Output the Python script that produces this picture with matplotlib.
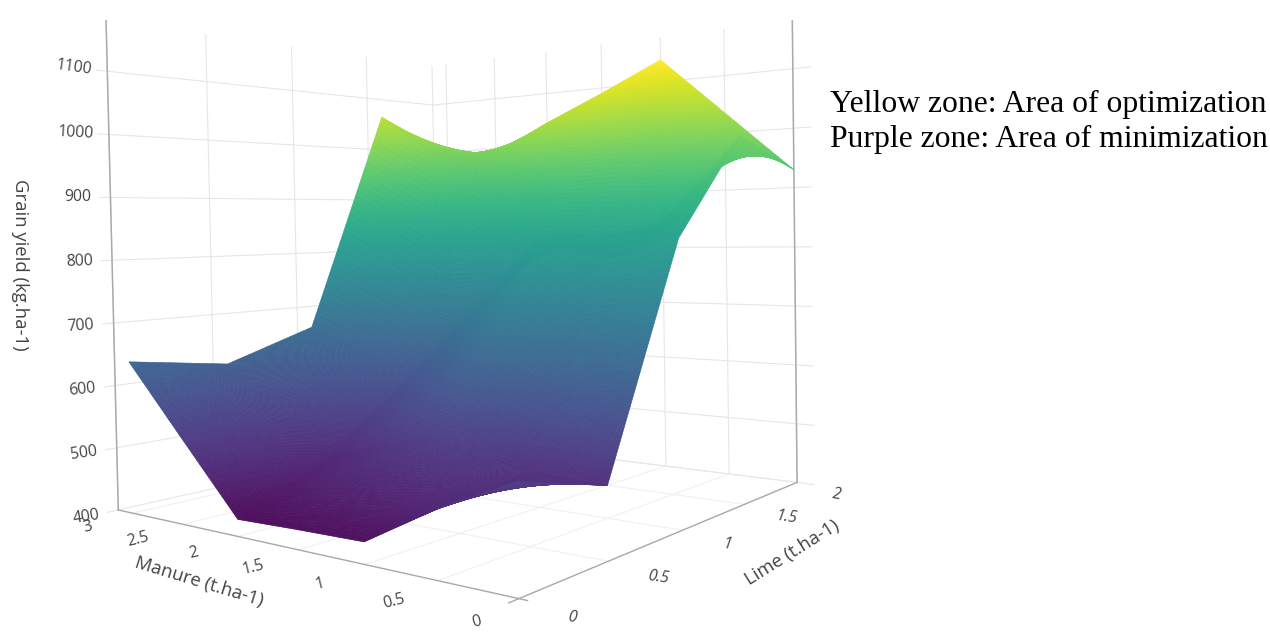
import numpy as np
import matplotlib
matplotlib.use('Agg')
import matplotlib.pyplot as plt
from matplotlib import cm
from matplotlib.colors import ListedColormap
from mpl_toolkits.mplot3d import proj3d

# values
manure = [0, 0.5, 1, 1.5, 2, 2.5, 3]
lime = [0, 0.5, 1, 1.5, 2]
grain_yield = [
    [540, 490, 430, 428, 425, 532, 640],
    [500, 505, 550, 520, 490, 555, 617],
    [822, 790, 820, 697, 600, 630, 665],
    [978, 850, 820, 835, 920, 985, 1060],
    [930, 1035, 1140, 1090, 1043, 990, 990],
]

manure_ticks = [0, 0.5, 1, 1.5, 2, 2.5, 3]
manure_labels = ['0', '0.5', '1', '1.5', '2', '2.5', '3']
lime_ticks = [0, 0.5, 1, 1.5, 2]
lime_labels = ['0', '0.5', '1', '1.5', '2']
yield_ticks = [400, 500, 600, 700, 800, 900, 1000, 1100]
yield_tilt = [9, 8, 6, 4, 2, 0, -3, -8]

manure_max = 3.15
lime_max = 2
yield_top = 1180


def refine(xs, ys, zs, n=36):
    # finer mesh so each facet gets a colour gradient
    xs, ys, zs = np.array(xs, float), np.array(ys, float), np.array(zs, float)
    xf = np.linspace(xs[0], xs[-1], n * (len(xs) - 1) + 1)
    yf = np.linspace(ys[0], ys[-1], n * (len(ys) - 1) + 1)
    rows = np.array([np.interp(xf, xs, r) for r in zs])
    zf = np.array([np.interp(yf, ys, c) for c in rows.T]).T
    return xf, yf, zf


def label3d(x, y, z, s, **kw):
    # put a 2D text where a 3D point lands
    px, py, _ = proj3d.proj_transform(x, y, z, ax.get_proj())
    ax.text2D(px, py, s, transform=ax.transData, color=tc, fontsize=fs, family='Open Sans',
              ha='center', va='center', zorder=5, **kw)


fig = plt.figure(figsize=(12.7, 6.32), dpi=100)
ax = fig.add_axes([-50 / 1270, (632 - 273 - 500) / 632, 1000 / 1270, 1000 / 632], projection='3d', computed_zorder=False)
ax.set_proj_type('persp', focal_length=0.225)
ax.view_init(elev=1.5, azim=-141, roll=1)
ax.set_box_aspect((1, 1, 0.98), zoom=0.81)
ax.set_xlim(0, lime_max)
ax.set_ylim(0, manure_max)
ax.set_zlim(400, yield_top)
ax.set_axis_off()

grid = '#e6e6e6'
edge = '#aaaaaa'

# floor grid
for m in manure_ticks:
    ax.plot([0, lime_max], [m, m], [400, 400], color='#f0f0f0', lw=0.8, zorder=1)
for l in lime_ticks:
    ax.plot([l, l], [0, manure_max], [400, 400], color='#f0f0f0', lw=0.8, zorder=1)

# back walls
for z in yield_ticks:
    ax.plot([-0.05, lime_max], [manure_max, manure_max], [z, z], color=grid, lw=0.8, zorder=1)
    ax.plot([lime_max, lime_max], [manure_max, -0.12], [z, z], color=grid, lw=0.8, zorder=1)
for l in lime_ticks:
    ax.plot([l, l], [manure_max, manure_max], [400, yield_top], color=grid, lw=0.8, zorder=1)
for m in manure_ticks:
    ax.plot([lime_max, lime_max], [m, m], [400, yield_top], color=grid, lw=0.8, zorder=1)

# box edges
ax.plot([0, 0], [manure_max, manure_max], [400, yield_top], color=edge, lw=1.1, zorder=2)
ax.plot([lime_max, lime_max], [0, 0], [400, yield_top], color=edge, lw=1.1, zorder=2)
ax.plot([0, 0], [-0.05, manure_max], [400, 400], color=edge, lw=1.0, zorder=2)
ax.plot([-0.05, lime_max], [0, 0], [400, 400], color=edge, lw=1.0, zorder=2)

# surface, viridis slightly washed out like the lit surface in the reference
washed = cm.viridis(np.linspace(0, 1, 256))
washed[:, :3] = washed[:, :3] * 0.95 + 0.05
xf, yf, zf = refine(manure, lime, grain_yield)
M, L = np.meshgrid(xf, yf)
surf = ax.plot_surface(L, M, zf, cmap=ListedColormap(washed), rstride=1, cstride=1, linewidth=0,
                       antialiased=True, shade=False, zorder=3)
surf.set_edgecolor('face')
surf.set_linewidth(0.4)

# tick labels
tc = '#444444'
fs = 11.3
for m, label in zip(manure_ticks, manure_labels):
    label3d(-0.21, m - 0.01, 395, label, rotation=14)
for l, label in zip(lime_ticks, lime_labels):
    label3d(l * 0.98, -0.3, 392, label, rotation=-8, style='italic')
for z, tilt in zip(yield_ticks, yield_tilt):
    label3d(-0.15, manure_max, z, str(z), rotation=tilt)

fig.text(199 / 1270, 1 - 582 / 632, 'Manure (t.ha-1)', color=tc, fontsize=13.3, family='Open Sans', rotation=-17, ha='center', va='center')
fig.text(792 / 1270, 1 - 553 / 632, 'Lime (t.ha-1)', color=tc, fontsize=13.3, family='Open Sans', rotation=32, ha='center', va='center')
fig.text(20 / 1270, 1 - 265 / 632, 'Grain yield (kg.ha-1)', color=tc, fontsize=13.3, family='Open Sans', rotation=-90, ha='center', va='center')

fig.text(830 / 1270, 1 - 104 / 632, 'Yellow zone: Area of optimization', color='black', fontsize=22.8, family='Liberation Serif', va='center')
fig.text(830 / 1270, 1 - 139 / 632, 'Purple zone: Area of minimization', color='black', fontsize=22.8, family='Liberation Serif', va='center')

fig.savefig('out.png', dpi=100)
